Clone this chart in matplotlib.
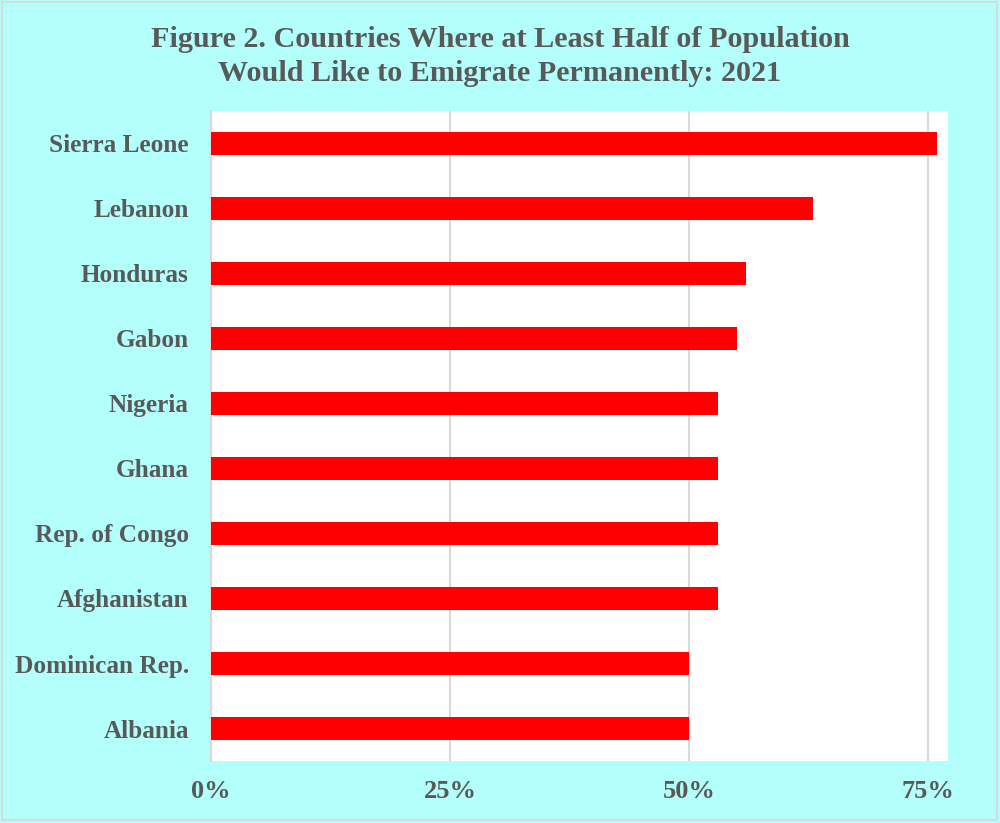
import matplotlib.pyplot as plt
from matplotlib.ticker import FuncFormatter

# data, top to bottom as in the chart
countries = ["Sierra Leone", "Lebanon", "Honduras", "Gabon", "Nigeria", "Ghana",
             "Rep. of Congo", "Afghanistan", "Dominican Rep.", "Albania"]
shares = [76, 63, 56, 55, 53, 53, 53, 53, 50, 50]
xticks = [0, 25, 50, 75]

gray = "#595959"
cyan = "#B3FFFC"
plt.rcParams['font.family'] = ['Liberation Serif', 'DejaVu Serif']

fig = plt.figure(figsize=(10, 8.23), dpi=100, facecolor=cyan)
fig.patches.append(plt.Rectangle((0.002, 0.004), 0.995, 0.993, transform=fig.transFigure,
                                 fill=False, edgecolor="#d9d9d9", linewidth=1.5))
ax = fig.add_axes([0.211, 0.0753, 0.737, 0.790])
ax.set_facecolor("white")

y = list(range(len(countries)))[::-1]
ax.barh(y, shares, height=0.35, color="#FF0000", zorder=3)

ax.set_xlim(0, 77.1)
ax.set_ylim(-0.5, len(countries) - 0.5)
ax.set_xticks(xticks)
ax.xaxis.set_major_formatter(FuncFormatter(lambda v, p: f"{v:.0f}%"))
ax.set_yticks(y)
ax.set_yticklabels(countries)
ax.grid(axis="x", color="#d9d9d9", linewidth=1.5, zorder=0)
ax.tick_params(length=0, colors=gray)
ax.tick_params(axis="x", pad=14, labelsize=19)
ax.tick_params(axis="y", pad=16, labelsize=18.2)
for lab in ax.get_xticklabels() + ax.get_yticklabels():
    lab.set_fontweight("bold")
for s in ["top", "right", "bottom"]:
    ax.spines[s].set_visible(False)
ax.spines["left"].set_color("#d9d9d9")
ax.spines["left"].set_linewidth(1.5)

fig.suptitle("Figure 2. Countries Where at Least Half of Population\nWould Like to Emigrate Permanently: 2021",
             x=0.5, y=0.968, fontsize=21.7, fontweight="bold", color=gray, linespacing=1.3)

plt.savefig("out.png", dpi=100, facecolor=cyan)
